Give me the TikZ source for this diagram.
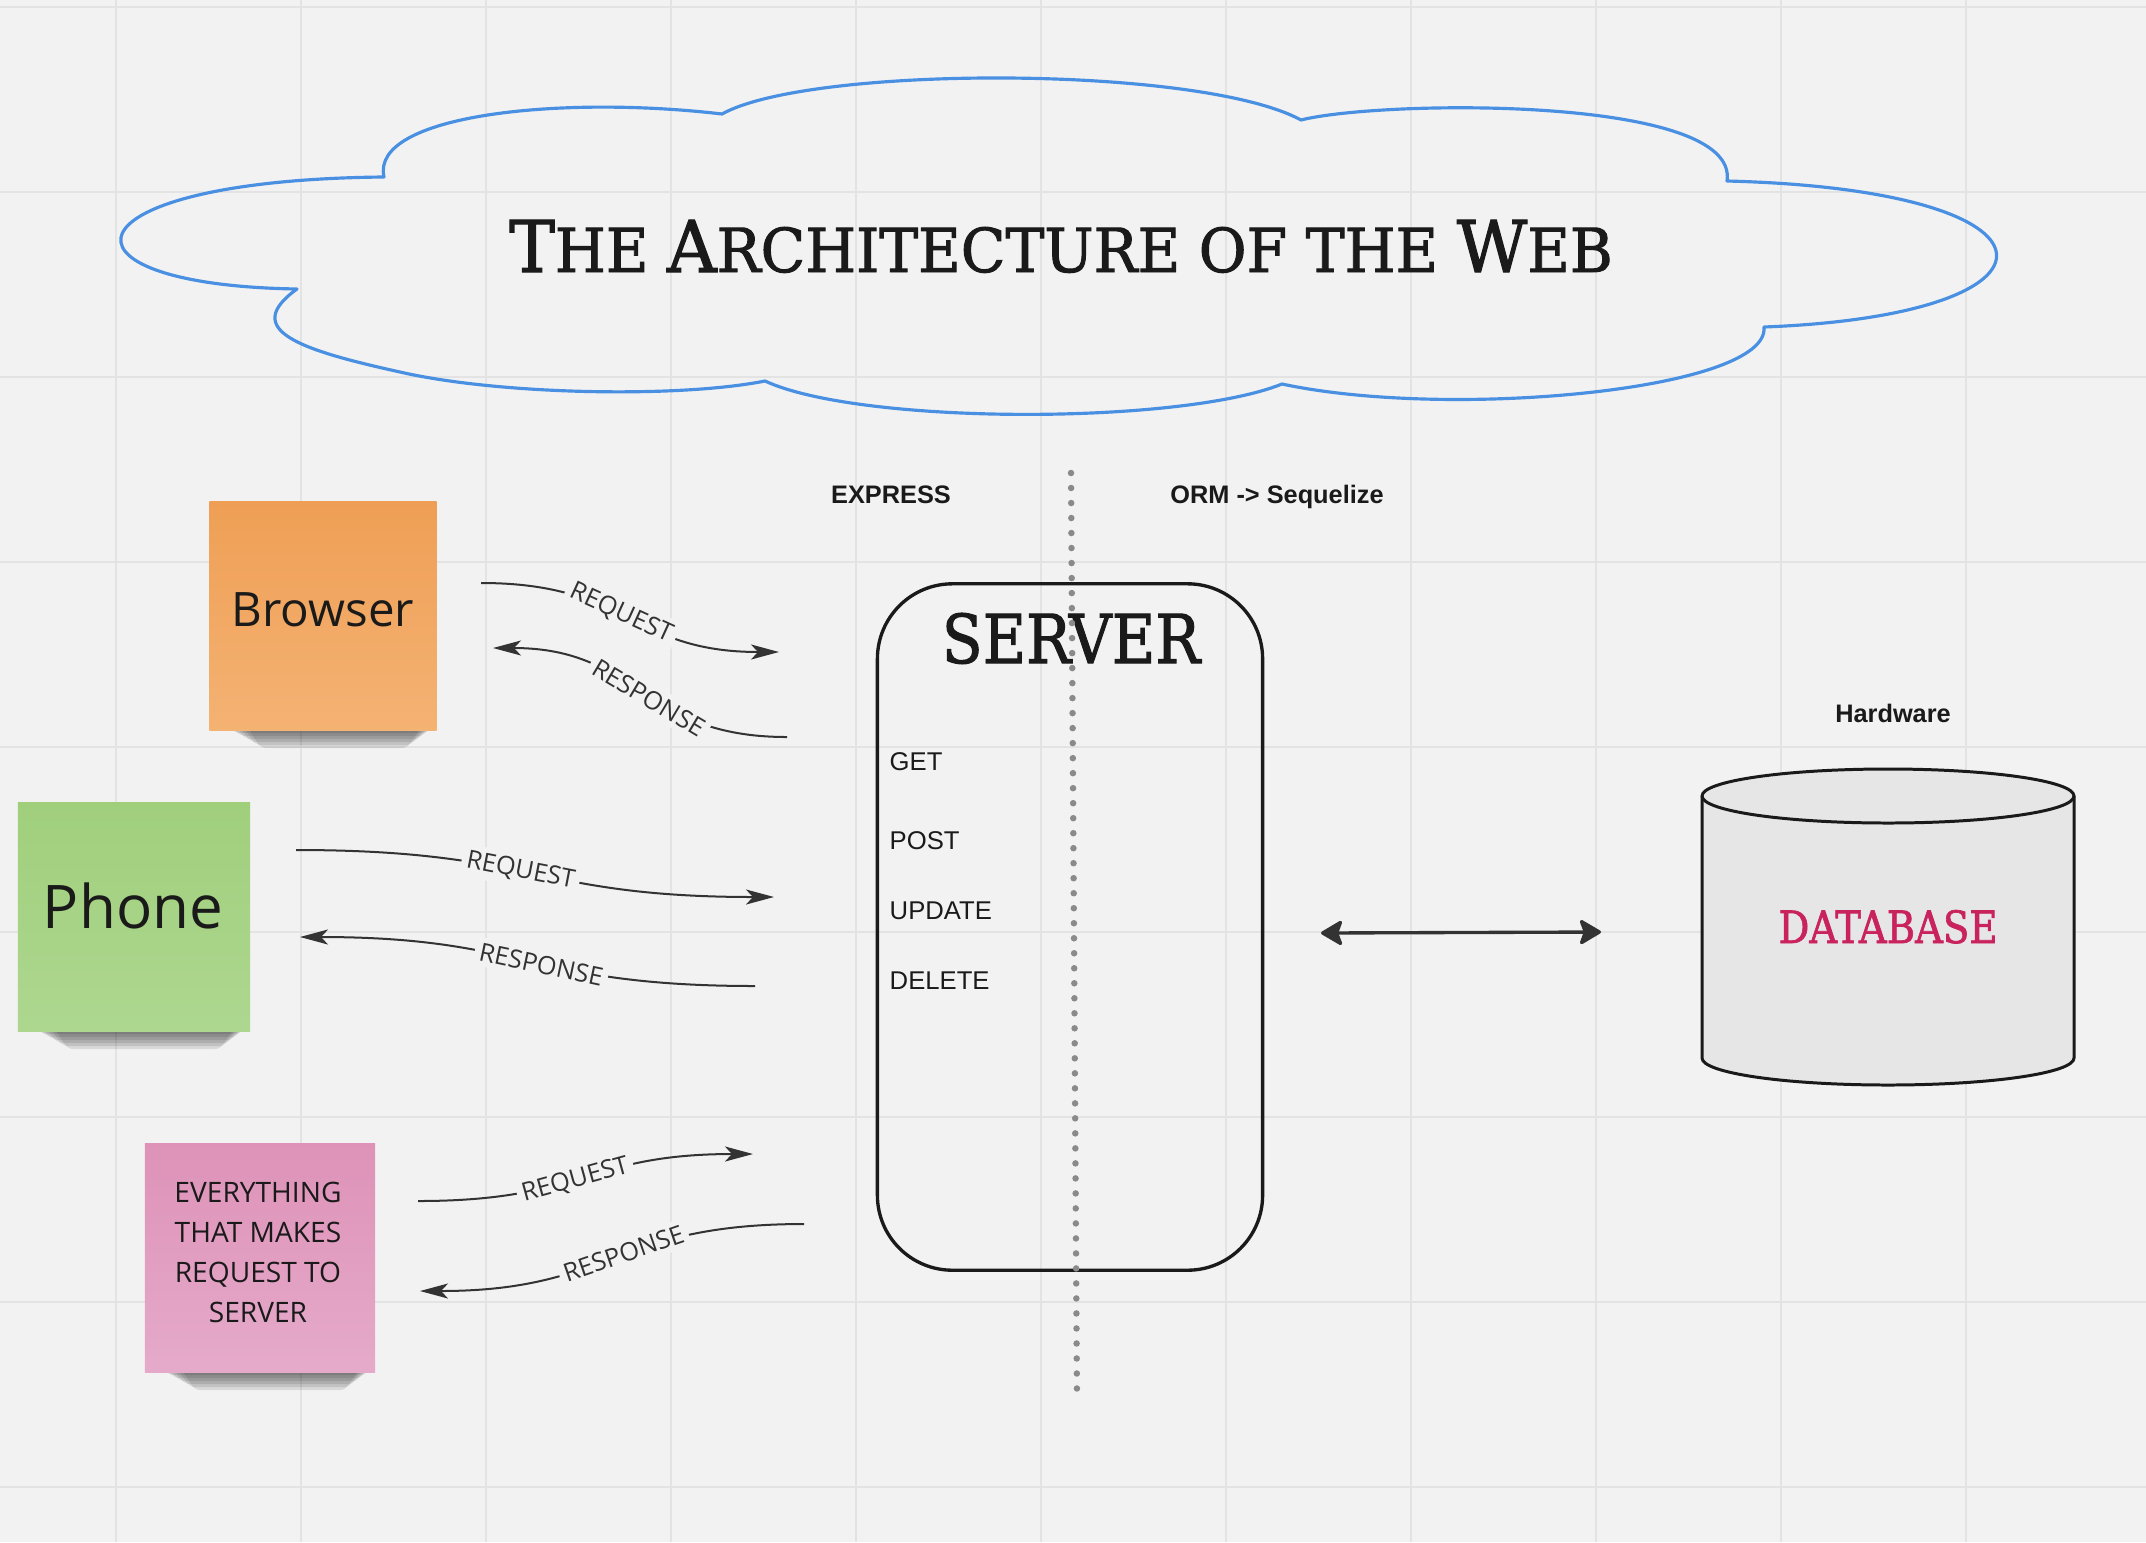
\documentclass[tikz,border=0pt]{standalone}
\usepackage{fontspec}
\usepackage{graphicx}
\setmainfont{Liberation Sans}
\newfontfamily\opensans{Open Sans}
\newfontfamily\slab{DejaVu Serif}[FakeBold=1.6]
\newfontfamily\arialf{Liberation Sans}
\usetikzlibrary{arrows.meta}
\definecolor{bgc}{HTML}{F2F2F2}
\definecolor{gridc}{HTML}{E3E3E3}
\definecolor{cloudc}{HTML}{4A90E2}
\definecolor{txtc}{HTML}{1A1A1A}
\definecolor{arrc}{HTML}{333333}
\definecolor{dotc}{HTML}{8A8A8A}
\definecolor{dbfill}{HTML}{E6E6E6}
\definecolor{dbtext}{HTML}{C9235E}
\definecolor{orgT}{HTML}{EF9F55}
\definecolor{orgB}{HTML}{F4B273}
\definecolor{grnT}{HTML}{A0CF7C}
\definecolor{grnB}{HTML}{ADD78F}
\definecolor{pnkT}{HTML}{DE92B8}
\definecolor{pnkB}{HTML}{E5AACA}
\newcommand\myfs[1]{\fontsize{#1}{#1}\selectfont}
% soft shadow under a sticky note: left x, right x, bottom y
\newcommand\notesh[3]{%
  \foreach \k in {1,...,6}{%
    \fill[black, opacity=0.1, rounded corners=0.05cm]
      ({#1+10+4*\k},{#3-6}) -- ({#2-2-2*\k},{#3-6}) -- ({#2-6-4*\k},{#3+3*\k}) -- ({#1+20+5*\k},{#3+3*\k}) -- cycle;}}
\tikzset{
  gridl/.style={draw=gridc, line width=0.57pt},
  cloudline/.style={draw=cloudc, line width=0.9pt, line join=round},
  conn/.style={draw=arrc, line width=0.57pt, -{Stealth[length=0.28cm,width=0.15cm,inset=0.07cm]}},
  dblarrow/.style={draw=arrc, line width=0.95pt, {Stealth[length=0.24cm,width=0.28cm,inset=0.05cm,round]}-{Stealth[length=0.24cm,width=0.28cm,inset=0.05cm,round]}},
  lbl/.style={fill=bgc, inner sep=0.05cm, text=arrc, font=\opensans\myfs{7.2}, pos=0.46},
  note/.style={inner sep=0, minimum height=2.28cm},
  plain/.style={inner sep=0, text=txtc},
  boldlbl/.style={plain, anchor=base, font=\arialf\bfseries\myfs{7.2}},
  verb/.style={plain, anchor=base west, font=\arialf\myfs{7.3}},
  dotl/.style={draw=dotc, line width=0.065cm, line cap=round, dash pattern=on 0pt off 0.15cm},
}
\begin{document}
\begin{tikzpicture}[x=0.01cm, y=-0.01cm]
\fill[bgc] (0,0) rectangle (2146,1542);
\useasboundingbox (0,0) rectangle (2146,1542);
% grid
\foreach \gx in {116,301,486,671,856,1041,1226,1411,1596,1781,1966}
  \draw[gridl] (\gx,0) -- (\gx,1542);
\foreach \gy in {7,192,377,562,747,932,1117,1302,1487}
  \draw[gridl] (0,\gy) -- (2146,\gy);
% cloud
\draw[cloudline] (384,177) .. controls (370,115) and (560,95) .. (722,114)
  .. controls (810,65) and (1200,65) .. (1301,120)
  .. controls (1380,100) and (1740,95) .. (1727,181)
  .. controls (2080,190) and (2080,315) .. (1764,327)
  .. controls (1770,390) and (1450,420) .. (1282,384)
  .. controls (1180,425) and (860,425) .. (765,381)
  .. controls (680,398) and (500,395) .. (400,372)
  .. controls (300,350) and (240,330) .. (297,289)
  .. controls (40,285) and (60,180) .. cycle;
\node[plain, anchor=base] (title) at (1061,272) {\resizebox{11.03cm}{0.52cm}{\slab\myfs{20}T\myfs{17}HE \myfs{20}A\myfs{17}RCHITECTURE OF THE \myfs{20}W\myfs{17}EB}};
% sticky notes with shadows
\notesh{211}{437}{730}
\node[note, minimum width=2.27cm, top color=orgT, bottom color=orgB] (browser) at (323,616) {};
\node[plain, anchor=base, font=\opensans\myfs{13.5}] (browsertxt) at (323,626) {Browser};
\notesh{18}{250}{1031}
\node[note, minimum width=2.32cm, top color=grnT, bottom color=grnB] (phone) at (134,917) {};
\node[plain, anchor=base, font=\opensans\myfs{17.1}] (phonetxt) at (133,928) {Phone};
\notesh{145}{375}{1372}
\node[note, minimum width=2.30cm, top color=pnkT, bottom color=pnkB] (pink) at (260,1258) {};
\node[plain, align=center, font=\opensans\fontsize{8}{11.38}\selectfont] (pinktxt) at (258,1252) {EVERYTHING\\THAT MAKES\\REQUEST TO\\SERVER};
% request / response connectors
\coordinate (b1s) at (481,583); \coordinate (b1e) at (779,652);
\coordinate (b2s) at (787,737); \coordinate (b2e) at (493,648);
\coordinate (p1s) at (296,850); \coordinate (p1e) at (774,897);
\coordinate (p2s) at (755,986); \coordinate (p2e) at (300,937);
\coordinate (k1s) at (418,1201); \coordinate (k1e) at (753,1154);
\coordinate (k2s) at (804,1224); \coordinate (k2e) at (420,1291);
\draw[conn] (b1s) .. controls +(149,0) and +(-149,0) .. node[lbl, sloped] {REQUEST} (b1e);
\draw[conn] (b2s) .. controls +(-147,0) and +(147,0) .. node[lbl, sloped] {RESPONSE} (b2e);
\draw[conn] (p1s) .. controls +(239,0) and +(-239,0) .. node[lbl, sloped] {REQUEST} (p1e);
\draw[conn] (p2s) .. controls +(-227,0) and +(227,0) .. node[lbl, sloped] {RESPONSE} (p2e);
\draw[conn] (k1s) .. controls +(167,0) and +(-167,0) .. node[lbl, sloped] {REQUEST} (k1e);
\draw[conn] (k2s) .. controls +(-192,0) and +(192,0) .. node[lbl, sloped] {RESPONSE} (k2e);
% server
\node[draw=txtc, line width=0.95pt, rounded corners=0.75cm, minimum width=3.85cm, minimum height=6.86cm, inner sep=0] (server) at (1070,927) {};
\node[plain, anchor=base] (servertitle) at (1071,663) {\resizebox{2.58cm}{0.5cm}{\slab SERVER}};
\node[verb] (get) at (889,770) {GET};
\node[verb] (post) at (889,849) {POST};
\node[verb] (update) at (889,919) {UPDATE};
\node[verb] (delete) at (889,989) {DELETE};
\node[boldlbl] (express) at (891,503) {EXPRESS};
\node[boldlbl] (orm) at (1277,503) {ORM -> Sequelize};
% dotted divider
\coordinate (dtop) at (1071,473); \coordinate (dbot) at (1077,1403);
\draw[dotl] (dtop) -- (dbot);
% database
\path[fill=dbfill, draw=txtc, line width=0.85pt, line join=round] (1702,796) -- (1702,1058)
  .. controls (1702,1073) and (1785,1085) .. (1888,1085)
  .. controls (1991,1085) and (2074,1073) .. (2074,1058) -- (2074,796)
  .. controls (2074,781) and (1991,769) .. (1888,769)
  .. controls (1785,769) and (1702,781) .. cycle;
\draw[draw=txtc, line width=0.85pt] (1702,796) .. controls (1702,811) and (1785,823) .. (1888,823)
  .. controls (1991,823) and (2074,811) .. (2074,796);
\node[inner sep=0, anchor=base, text=dbtext] (db) at (1888,943) {\resizebox{2.19cm}{0.33cm}{\slab DATABASE}};
\node[boldlbl] (hardware) at (1893,722) {Hardware};
% server <-> database
\coordinate (da1) at (1321,933); \coordinate (da2) at (1601,932);
\draw[dblarrow] (da1) -- (da2);
\end{tikzpicture}
\end{document}
